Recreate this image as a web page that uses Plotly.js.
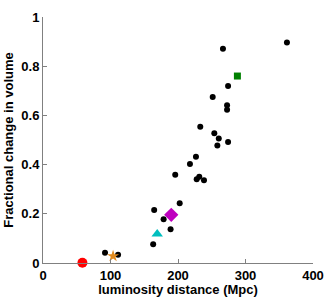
<!DOCTYPE html>
<html><head><meta charset="utf-8">
<script src="https://cdn.plot.ly/plotly-3.0.1.min.js"></script>
<style>html,body{margin:0;padding:0;background:#fff}#c{width:332px;height:297px}</style>
</head><body><div id="c"></div>
<script>
const blackX = [266.6, 361.4, 274.2, 251.4, 272.7, 272.7, 233.0, 253.8, 260.4, 274.2, 258.3, 226.6, 217.7, 195.9, 231.5, 227.7, 238.5, 202.5, 164.7, 178.7, 189.0, 163.2, 91.9, 111.2];
const blackY = [0.871, 0.896, 0.720, 0.675, 0.641, 0.623, 0.554, 0.527, 0.506, 0.492, 0.478, 0.432, 0.402, 0.359, 0.351, 0.340, 0.336, 0.243, 0.215, 0.178, 0.137, 0.076, 0.042, 0.034];
const redX = [58.4], redY = [0.001];
const starX = [103.8], starY = [0.028];
const triX = [169.2], triY = [0.118];
const diaX = [190.0], diaY = [0.196];
const sqX = [288.0], sqY = [0.760];
const xTicks = [0, 100, 200, 300, 400];
const yTicks = [0, 0.2, 0.4, 0.6, 0.8, 1];

const fnt = {family: 'Liberation Sans, Arial, sans-serif', size: 13, color: '#000', weight: 'bold'};
const traces = [
  {x: blackX, y: blackY, mode: 'markers', type: 'scatter', marker: {color: '#000', size: 6}},
  {x: redX, y: redY, mode: 'markers', type: 'scatter', marker: {color: '#ff0000', size: 10}, cliponaxis: false},
  {x: starX, y: starY, mode: 'markers', type: 'scatter', marker: {color: '#e08a1e', size: 9, symbol: 'star'}},
  {x: triX, y: triY, mode: 'markers', type: 'scatter', marker: {color: '#00bfbf', size: 10, symbol: 'triangle-up'}},
  {x: diaX, y: diaY, mode: 'markers', type: 'scatter', marker: {color: '#bf00bf', size: 11, symbol: 'diamond'}},
  {x: sqX, y: sqY, mode: 'markers', type: 'scatter', marker: {color: '#008000', size: 7, symbol: 'square'}}
];
const layout = {
  width: 332, height: 297,
  margin: {l: 43, r: 19, t: 17, b: 34},
  showlegend: false,
  paper_bgcolor: '#fff', plot_bgcolor: '#fff',
  font: fnt,
  xaxis: {range: [0, 400], tickvals: xTicks, ticktext: xTicks.map(String), ticks: 'inside', ticklen: 4, tickcolor: '#808080',
    showline: true, linecolor: '#808080', linewidth: 1, showgrid: false, zeroline: false, tickfont: fnt,
    title: {text: 'luminosity distance (Mpc)', font: fnt, standoff: 2}},
  yaxis: {range: [0, 1], tickvals: yTicks, ticktext: yTicks.map(String), ticks: 'inside', ticklen: 4, tickcolor: '#808080',
    showline: true, linecolor: '#808080', linewidth: 1, showgrid: false, zeroline: false, tickfont: fnt,
    title: {text: 'Fractional change in volume', font: fnt, standoff: 4}}
};
Plotly.newPlot('c', traces, layout, {displayModeBar: false, staticPlot: true});
</script></body></html>
